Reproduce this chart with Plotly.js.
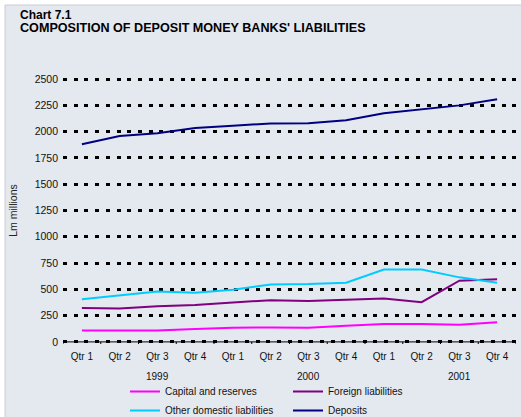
<!DOCTYPE html>
<html>
<head>
<meta charset="utf-8">
<script src="https://cdn.plot.ly/plotly-3.0.1.min.js"></script>
<style>html,body{margin:0;padding:0;background:#fff;}#chart{width:521px;height:417px;}</style>
</head>
<body>
<div id="chart"></div>
<script>
// Categories (quarters 1999 Q1 .. 2001 Q4)
const quarters = ["Qtr 1","Qtr 2","Qtr 3","Qtr 4","Qtr 1","Qtr 2","Qtr 3","Qtr 4","Qtr 1","Qtr 2","Qtr 3","Qtr 4"];
const years = ["1999","2000","2001"];
const yearPos = [2, 6, 10];

// Series values (Lm millions)
const capitalReserves = [109,109,109,122,134,138,134,154,170,170,163,186];
const foreignLiabilities = [323,317,339,352,374,397,390,400,413,378,582,595];
const otherDomestic = [406,445,480,467,496,547,550,563,688,688,614,563];
const deposits = [1881,1959,1984,2034,2056,2078,2081,2109,2175,2213,2250,2309];
const yTicks = [0,250,500,750,1000,1250,1500,1750,2000,2250,2500];

const seriesNames = ["Capital and reserves","Foreign liabilities","Other domestic liabilities","Deposits"];
const seriesData = [capitalReserves, foreignLiabilities, otherDomestic, deposits];
const seriesColors = ["#ff00ff","#800080","#00ccff","#000080"];

const xIdx = quarters.map((_, i) => i);
const font = "Liberation Sans, Arial, sans-serif";

const traces = seriesData.map((d, k) => ({
  x: xIdx, y: d, type: "scatter", mode: "lines", name: seriesNames[k],
  line: {color: seriesColors[k], width: 2}
}));

const W = 521, H = 417, L = 63, R = 5, T = 77, B = 73;
const pw = W - L - R, ph = H - T - B;
const px = x => (x - L) / pw;
const py = y => (H - B - y) / ph;

const annotations = years.map((yr, i) => ({
  x: yearPos[i], xref: "x", y: py(376), yref: "paper", text: yr, showarrow: false,
  xanchor: "center", yanchor: "middle", font: {family: font, size: 10, color: "#111"}
}));
annotations.push({x: px(18), xref: "paper", y: py(15), yref: "paper", text: "<b>Chart 7.1</b>",
  showarrow: false, xanchor: "left", yanchor: "middle", font: {family: font, size: 12, color: "#000"}});
annotations.push({x: px(18), xref: "paper", y: py(28.5), yref: "paper", text: "<b>COMPOSITION OF DEPOSIT MONEY BANKS' LIABILITIES</b>",
  showarrow: false, xanchor: "left", yanchor: "middle", font: {family: font, size: 12.6, color: "#000"}});

const shapes = [
  {type: "rect", xref: "paper", yref: "paper", x0: px(5), x1: px(530), y0: py(5), y1: py(430),
   fillcolor: "#e4e8ef", line: {color: "#c9ccd2", width: 1}, layer: "below"},
  {type: "line", xref: "x", yref: "y", x0: -0.5, x1: 11.5, y0: 0, y1: 0,
   line: {color: "#000", width: 1}, layer: "below"}
].concat(Array.from({length: 13}, (_, i) => ({
  type: "line", xref: "x", yref: "y", x0: i - 0.5, x1: i - 0.5, y0: 0, y1: -30,
  line: {color: "#000", width: 1}
})));

const layout = {
  width: W, height: H,
  margin: {l: L, r: R, t: T, b: B, pad: 0, autoexpand: false},
  paper_bgcolor: "#ffffff",
  plot_bgcolor: "rgba(0,0,0,0)",
  showlegend: true,
  legend: {
    orientation: "h", xref: "container", x: 125 / W, xanchor: "left",
    yref: "container", y: 1 - 377 / H, yanchor: "top",
    entrywidth: 118, entrywidthmode: "pixels", itemwidth: 30,
    bgcolor: "rgba(0,0,0,0)", font: {family: font, size: 10, color: "#111"},
    tracegroupgap: 0
  },
  xaxis: {
    type: "linear", range: [-0.5, 11.5], tickmode: "array", tickvals: xIdx, ticktext: quarters,
    showgrid: false, zeroline: false, showline: false, ticklabelstandoff: 5,
    ticks: "", tickfont: {family: font, size: 10, color: "#111"}, fixedrange: true, automargin: false
  },
  yaxis: {
    range: [-20, 2520], tickmode: "array", tickvals: yTicks,
    showgrid: true, gridcolor: "#000", gridwidth: 3, griddash: "4px,6.7px",
    zeroline: false, showline: false, ticks: "", ticklabelstandoff: 4, automargin: false,
    tickfont: {family: font, size: 10.5, color: "#111"},
    title: {text: "Lm millions", font: {family: font, size: 10.5, color: "#222"}, standoff: 14}
  },
  shapes: shapes,
  annotations: annotations
};

Plotly.newPlot("chart", traces, layout, {staticPlot: true, displayModeBar: false});
</script>
</body>
</html>
